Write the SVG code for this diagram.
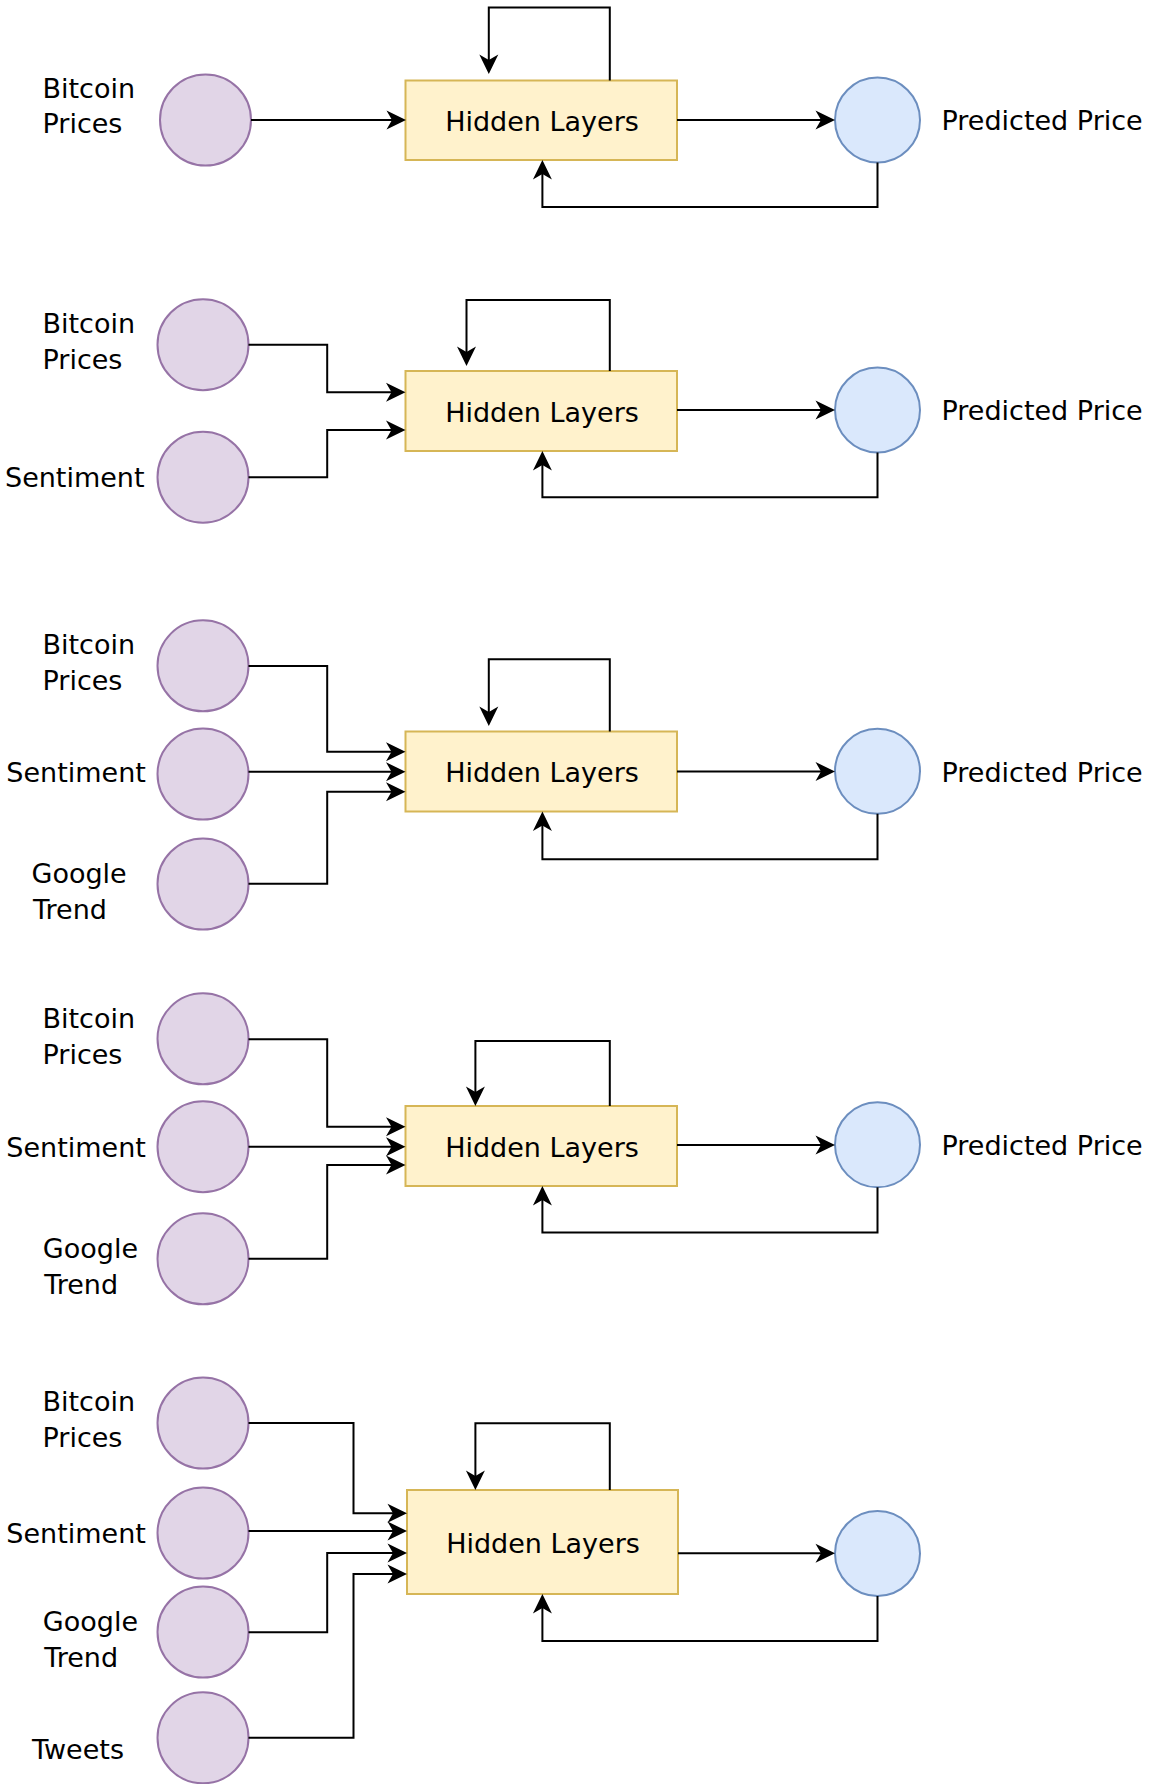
<svg xmlns="http://www.w3.org/2000/svg" width="1152" height="1784" viewBox="0 0 1152 1784">
<style>
text{font-family:"DejaVu Sans","Verdana",sans-serif;font-size:27px;fill:#000}
.in{fill:#e1d5e7;stroke:#9673a6;stroke-width:2}
.outc{fill:#dae8fc;stroke:#6c8ebf;stroke-width:2}
.box{fill:#fff2cc;stroke:#d6b656;stroke-width:2}
.c{fill:none;stroke:#000;stroke-width:2;marker-end:url(#arr)}
.mid{text-anchor:middle}
</style>
<defs>
<marker id="arr" viewBox="-16 -11 22 22" refX="0" refY="0" markerWidth="22" markerHeight="22" markerUnits="userSpaceOnUse" orient="auto">
<path d="M5,0 L-14.5,-9.5 L-9,0 L-14.5,9.5 Z" fill="#000"/>
</marker>
</defs>
<rect width="1152" height="1784" fill="#fff"/>

<!-- Panel 1 -->
<g id="p1-bitcoin"><circle class="in" cx="205.5" cy="120" r="45.5"/><text x="42.5" y="97.5">Bitcoin</text><text x="42.5" y="132.5">Prices</text></g>
<g id="p1-hidden"><rect class="box" x="405.5" y="80.5" width="271.5" height="79.5"/><text class="mid" x="542" y="131">Hidden Layers</text></g>
<g id="p1-output"><circle class="outc" cx="877.5" cy="120" r="42.5"/><text x="941.5" y="130">Predicted Price</text></g>

<!-- Panel 2 -->
<g id="p2-bitcoin"><circle class="in" cx="203" cy="344.7" r="45.5"/><text x="42.5" y="333">Bitcoin</text><text x="42.5" y="369">Prices</text></g>
<g id="p2-sentiment"><circle class="in" cx="203" cy="477.2" r="45.5"/><text x="5" y="487.3">Sentiment</text></g>
<g id="p2-hidden"><rect class="box" x="405.5" y="371" width="271.5" height="80"/><text class="mid" x="542" y="421.5">Hidden Layers</text></g>
<g id="p2-output"><circle class="outc" cx="877.5" cy="410" r="42.5"/><text x="941.5" y="420">Predicted Price</text></g>

<!-- Panel 3 -->
<g id="p3-bitcoin"><circle class="in" cx="203" cy="665.8" r="45.5"/><text x="42.5" y="654.4">Bitcoin</text><text x="42.5" y="690">Prices</text></g>
<g id="p3-sentiment"><circle class="in" cx="203" cy="774" r="45.5"/><text x="6.3" y="782">Sentiment</text></g>
<g id="p3-google"><circle class="in" cx="203" cy="884" r="45.5"/><text x="31.5" y="882.8">Google</text><text x="33" y="918.6">Trend</text></g>
<g id="p3-hidden"><rect class="box" x="405.5" y="731.5" width="271.5" height="80"/><text class="mid" x="542" y="782">Hidden Layers</text></g>
<g id="p3-output"><circle class="outc" cx="877.5" cy="771.3" r="42.5"/><text x="941.5" y="781.5">Predicted Price</text></g>

<!-- Panel 4 -->
<g id="p4-bitcoin"><circle class="in" cx="203" cy="1038.8" r="45.5"/><text x="42.5" y="1027.5">Bitcoin</text><text x="42.5" y="1063.8">Prices</text></g>
<g id="p4-sentiment"><circle class="in" cx="203" cy="1146.7" r="45.5"/><text x="6.3" y="1157.3">Sentiment</text></g>
<g id="p4-google"><circle class="in" cx="203" cy="1258.8" r="45.5"/><text x="42.8" y="1258.3">Google</text><text x="44.2" y="1294.3">Trend</text></g>
<g id="p4-hidden"><rect class="box" x="405.5" y="1106" width="271.5" height="80"/><text class="mid" x="542" y="1156.5">Hidden Layers</text></g>
<g id="p4-output"><circle class="outc" cx="877.5" cy="1144.8" r="42.5"/><text x="941.5" y="1155">Predicted Price</text></g>

<!-- Panel 5 -->
<g id="p5-bitcoin"><circle class="in" cx="203" cy="1423" r="45.5"/><text x="42.5" y="1411.3">Bitcoin</text><text x="42.5" y="1447.3">Prices</text></g>
<g id="p5-sentiment"><circle class="in" cx="203" cy="1533" r="45.5"/><text x="6.3" y="1543.3">Sentiment</text></g>
<g id="p5-google"><circle class="in" cx="203" cy="1632" r="45.5"/><text x="42.8" y="1631.3">Google</text><text x="44.2" y="1667.3">Trend</text></g>
<g id="p5-tweets"><circle class="in" cx="203" cy="1737.8" r="45.5"/><text x="32" y="1759.3">Tweets</text></g>
<g id="p5-hidden"><rect class="box" x="407" y="1490" width="271" height="104"/><text class="mid" x="543" y="1552.5">Hidden Layers</text></g>
<g id="p5-output"><circle class="outc" cx="877.5" cy="1553.5" r="42.5"/></g>

<g id="connectors">
<!-- Panel 1 -->
<path class="c" d="M251,120 H401"/>
<path class="c" d="M677,120 H830"/>
<path class="c" d="M609.8,80.5 V7.5 H488.8 V69"/>
<path class="c" d="M877.5,162.5 V207 H542.4 V165"/>
<!-- Panel 2 -->
<path class="c" d="M248.5,344.7 H327.2 V392.3 H400.5"/>
<path class="c" d="M248.5,477.3 H327.2 V430 H400.5"/>
<path class="c" d="M677,410 H830"/>
<path class="c" d="M609.8,371 V300 H466.5 V361"/>
<path class="c" d="M877.5,452.5 V497.3 H542.4 V456"/>
<!-- Panel 3 -->
<path class="c" d="M248.5,666 H327.2 V751.7 H400.5"/>
<path class="c" d="M248.5,771.7 H400.5"/>
<path class="c" d="M248.5,883.7 H327.2 V791.7 H400.5"/>
<path class="c" d="M677,771.5 H830"/>
<path class="c" d="M609.8,731.5 V659.3 H488.8 V721"/>
<path class="c" d="M877.5,813.8 V859.3 H542.4 V816.5"/>
<!-- Panel 4 -->
<path class="c" d="M248.5,1039.3 H327.2 V1126.7 H400.5"/>
<path class="c" d="M248.5,1146.7 H400.5"/>
<path class="c" d="M248.5,1258.7 H327.2 V1165 H400.5"/>
<path class="c" d="M677,1145 H830"/>
<path class="c" d="M609.8,1106 V1041 H475.4 V1101"/>
<path class="c" d="M877.5,1187.3 V1232.5 H542.4 V1191"/>
<!-- Panel 5 -->
<path class="c" d="M248.5,1423 H353.5 V1513.3 H402"/>
<path class="c" d="M248.5,1531 H402"/>
<path class="c" d="M248.5,1632.3 H327.2 V1553 H402"/>
<path class="c" d="M248.5,1737.7 H353.5 V1574 H402"/>
<path class="c" d="M678,1553.3 H830"/>
<path class="c" d="M609.8,1490 V1423.3 H475.4 V1485"/>
<path class="c" d="M877.5,1596 V1641 H542.4 V1599"/>
</g>
</svg>
